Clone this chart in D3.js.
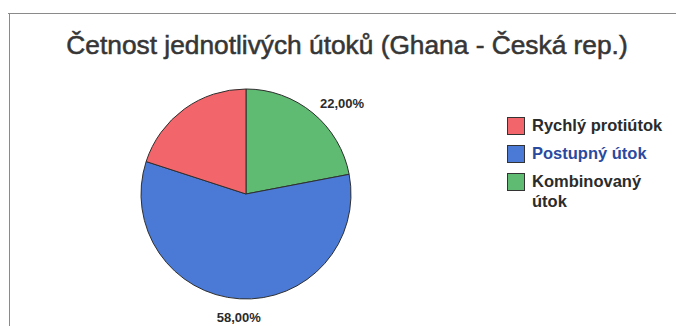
<!DOCTYPE html>
<html>
<head>
<meta charset="utf-8">
<script src="https://cdn.jsdelivr.net/npm/d3@7"></script>
<style>
  html, body { margin: 0; padding: 0; background: #fff; }
  svg { display: block; }
</style>
</head>
<body>
<svg id="chart" width="676" height="326"></svg>
<script>
// Attack types and their shares (percent)
const categories = ["Rychlý protiútok", "Postupný útok", "Kombinovaný útok"];
const values = [20, 58, 22];
const colors = ["#f2666b", "#4a7ad6", "#5fba72"];
const showLabel = [false, true, true];
const title = "Četnost jednotlivých útoků (Ghana - Česká rep.)";

const svg = d3.select("#chart");
const W = 676, H = 326;
const FONT = "Liberation Sans, Arial, sans-serif";

// frame
svg.append("line").attr("x1", 8).attr("y1", 13.5).attr("x2", W).attr("y2", 13.5)
  .attr("stroke", "#8a8a8a").attr("stroke-width", 1);
svg.append("line").attr("x1", 9.5).attr("y1", 13).attr("x2", 9.5).attr("y2", H)
  .attr("stroke", "#8a8a8a").attr("stroke-width", 1);

// title
svg.append("text")
  .attr("x", 347).attr("y", 54)
  .attr("text-anchor", "middle")
  .attr("font-family", FONT)
  .attr("font-size", 26.3)
  .attr("fill", "#363636")
  .attr("stroke", "#363636")
  .attr("stroke-width", 0.55)
  .text(title);

// pie
const cx = 246, cy = 194, r = 105;
const data = categories.map((c, i) => ({ name: c, value: values[i], color: colors[i], label: showLabel[i] }));

// green slice starts at 12 o'clock going clockwise, then blue, then red
const order = [2, 1, 0];
const pie = d3.pie().sort(null).value(d => d.value);
const arcs = pie(order.map(i => data[i]));
const arc = d3.arc().innerRadius(0).outerRadius(r);

const g = svg.append("g").attr("transform", `translate(${cx},${cy})`);
g.selectAll("path").data(arcs).join("path")
  .attr("d", arc)
  .attr("fill", d => d.data.color)
  .attr("stroke", "#2f2f2f")
  .attr("stroke-width", 1)
  .attr("stroke-linejoin", "round");

// percentage labels sit just outside the rim, nearest corner toward the slice
const fmt = v => d3.format(".2f")(v).replace(".", ",") + "%";
const labelR = 116;
g.selectAll("text.lbl").data(arcs.filter(d => d.data.label)).join("text")
  .attr("class", "lbl")
  .each(function (d) {
    const mid = (d.startAngle + d.endAngle) / 2;
    const s = Math.sin(mid), c = Math.cos(mid);
    const x = s * labelR, y = -c * labelR;
    const anchor = s > 0.3 ? "start" : (s < -0.3 ? "end" : "middle");
    const baseline = c > 0 ? y + 3 : y + 12;
    d3.select(this)
      .attr("x", x).attr("y", baseline)
      .attr("text-anchor", anchor);
  })
  .attr("font-family", FONT)
  .attr("font-weight", "bold")
  .attr("font-size", 13)
  .attr("fill", "#2b2b2b")
  .text(d => fmt(d.data.value));

// legend
const legendLines = [["Rychlý protiútok"], ["Postupný útok"], ["Kombinovaný", "útok"]];
const legendY = [117, 145, 173];
const legendText = ["#2b2b2b", "#2a4aa0", "#2b2b2b"];
const lg = svg.append("g");
data.forEach((d, i) => {
  lg.append("rect")
    .attr("x", 507.5).attr("y", legendY[i] + 0.5)
    .attr("width", 17).attr("height", 17)
    .attr("fill", d.color)
    .attr("stroke", "#333").attr("stroke-width", 1);
  const t = lg.append("text")
    .attr("font-family", FONT)
    .attr("font-weight", "bold")
    .attr("font-size", 16.5)
    .attr("fill", legendText[i]);
  legendLines[i].forEach((line, j) => {
    t.append("tspan").attr("x", 532).attr("y", legendY[i] + 14 + j * 20).text(line);
  });
});
</script>
</body>
</html>
